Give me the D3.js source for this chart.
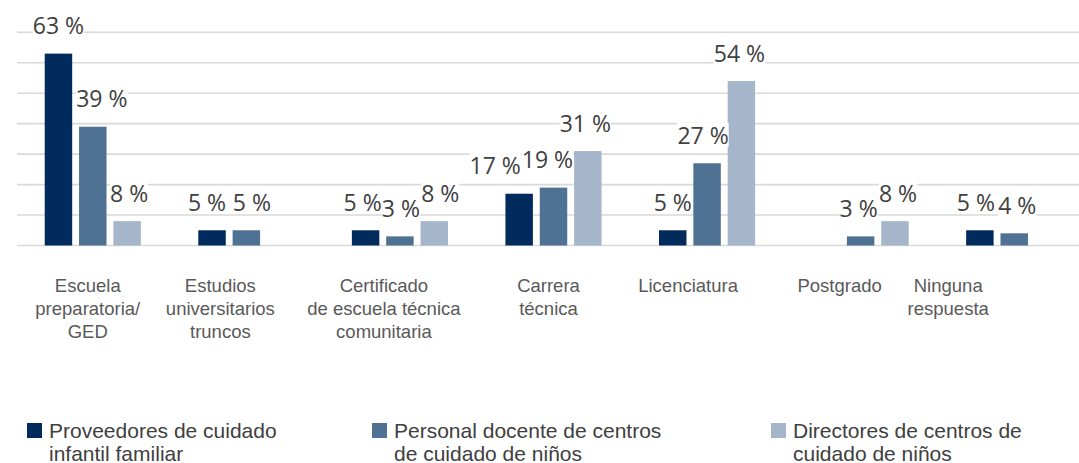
<!DOCTYPE html>
<html>
<head>
<meta charset="utf-8">
<script src="https://cdn.jsdelivr.net/npm/d3@7"></script>
<style>
  body { margin: 0; background: #fff; }
  svg { display: block; }
</style>
</head>
<body>
<svg id="chart" width="1079" height="463"></svg>
<script>
// data
const categories = [
  "Escuela\npreparatoria/\nGED",
  "Estudios\nuniversitarios\ntruncos",
  "Certificado\nde escuela técnica\ncomunitaria",
  "Carrera\ntécnica",
  "Licenciatura",
  "Postgrado",
  "Ninguna\nrespuesta"
];
const seriesNames = [
  "Proveedores de cuidado\ninfantil familiar",
  "Personal docente de centros\nde cuidado de niños",
  "Directores de centros de\ncuidado de niños"
];
const proveedores = [63, 5, 5, 17, 5, null, 5];
const personal = [39, 5, 3, 19, 27, 3, 4];
const directores = [8, null, 8, 31, 54, 8, null];
const yTicks = [0, 10, 20, 30, 40, 50, 60, 70];

// layout
const colors = ["#002b5c", "#4f7194", "#a6b6ca"];
const catNudge = [-5, -26, -16, -5, -19, -21, -66];   // hand placed axis labels
// hand placed value labels (px, per series, per category)
const valueNudge = [
  [0, -5, -3, -24, 0, 0, -4],
  [9, 5.5, 1, -6, -4, -2, 3],
  [2, 0, 6, -2.5, -2, 3, 0]
];
const legendX = [27, 372, 771];

const svg = d3.select("#chart");
const values = [proveedores, personal, directores];

const x0 = d3.scaleBand()
  .domain(d3.range(categories.length))
  .range([16, 1091]);

// bar cluster narrower than the band
const cluster = 103;
const x1 = d3.scaleBand()
  .domain(d3.range(seriesNames.length))
  .range([(x0.bandwidth() - cluster) / 2, (x0.bandwidth() + cluster) / 2])
  .paddingInner(0.2)
  .paddingOuter(0.1);

const y = d3.scaleLinear()
  .domain([0, 70])
  .range([245.5, 32.3]);

// gridlines
svg.append("g")
  .selectAll("line")
  .data(yTicks)
  .enter()
  .append("line")
  .attr("x1", 17)
  .attr("x2", 1079)
  .attr("y1", d => y(d))
  .attr("y2", d => y(d))
  .attr("stroke", "#d9d9d9")
  .attr("stroke-width", 1.6);

// bars
const flat = [];
values.forEach((arr, s) => arr.forEach((v, c) => {
  if (v != null) flat.push({ s: s, c: c, v: v });
}));

svg.append("g")
  .selectAll("rect")
  .data(flat)
  .enter()
  .append("rect")
  .attr("x", d => x0(d.c) + x1(d.s))
  .attr("y", d => y(d.v))
  .attr("width", x1.bandwidth())
  .attr("height", d => y(0) - y(d.v))
  .attr("fill", d => colors[d.s]);

// value labels, drawn series by series with white boxes
const labels = svg.append("g");
flat.forEach(d => {
  const cx = x0(d.c) + x1(d.s) + x1.bandwidth() / 2 + valueNudge[d.s][d.c];
  const g = labels.append("g");
  const box = g.append("rect").attr("fill", "#fff");
  const t = g.append("text")
    .attr("x", cx)
    .attr("y", y(d.v) - 19.5)
    .attr("text-anchor", "middle")
    .attr("font-family", "'Open Sans', sans-serif")
    .attr("font-size", 23)
    .attr("fill", "#404040")
    .text(d.v + " %");
  const bb = t.node().getBBox();
  box.attr("x", bb.x).attr("y", bb.y + 4)
    .attr("width", bb.width).attr("height", bb.height - 8);
});

// category labels
const cat = svg.append("g")
  .attr("font-family", "'Liberation Sans', Arial, sans-serif")
  .attr("font-size", 18.5)
  .attr("fill", "#595959")
  .attr("text-anchor", "middle");

categories.forEach((name, i) => {
  const cx = x0(i) + x0.bandwidth() / 2 + catNudge[i];
  const t = cat.append("text")
    .attr("x", cx)
    .attr("y", 291.5);
  name.split("\n").forEach((line, k) => {
    t.append("tspan")
      .attr("x", cx)
      .attr("dy", k === 0 ? 0 : 23.3)
      .text(line);
  });
});

// legend
const legend = svg.append("g")
  .attr("font-family", "'Liberation Sans', Arial, sans-serif")
  .attr("font-size", 21)
  .attr("fill", "#404040");

seriesNames.forEach((name, i) => {
  legend.append("rect")
    .attr("x", legendX[i])
    .attr("y", 423)
    .attr("width", 15)
    .attr("height", 15)
    .attr("fill", colors[i]);
  const t = legend.append("text")
    .attr("x", legendX[i] + 22)
    .attr("y", 438.3);
  name.split("\n").forEach((line, k) => {
    t.append("tspan")
      .attr("x", legendX[i] + 22)
      .attr("dy", k === 0 ? 0 : 23)
      .text(line);
  });
});
</script>
</body>
</html>
